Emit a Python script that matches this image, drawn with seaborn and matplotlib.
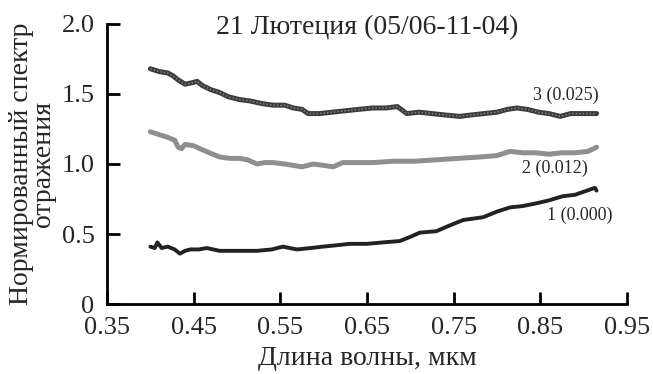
import matplotlib
matplotlib.use("Agg")
import matplotlib.pyplot as plt
import seaborn as sns

# Спектры (длина волны, мкм / нормированное отражение)
x3 = [0.400, 0.410, 0.420, 0.426, 0.432, 0.440, 0.448, 0.454, 0.460, 0.470, 0.480, 0.490,
      0.503, 0.515, 0.530, 0.542, 0.555, 0.565, 0.575, 0.582, 0.595, 0.610, 0.625, 0.640,
      0.657, 0.672, 0.685, 0.696, 0.710, 0.725, 0.740, 0.757, 0.770, 0.785, 0.800, 0.812,
      0.823, 0.835, 0.848, 0.860, 0.873, 0.885, 0.900, 0.915]
y3 = [1.68, 1.66, 1.65, 1.63, 1.60, 1.57, 1.58, 1.59, 1.56, 1.53, 1.51, 1.48,
      1.46, 1.45, 1.43, 1.42, 1.42, 1.40, 1.39, 1.36, 1.36, 1.37, 1.38, 1.39,
      1.40, 1.40, 1.41, 1.36, 1.37, 1.36, 1.35, 1.34, 1.35, 1.36, 1.37, 1.39,
      1.40, 1.39, 1.37, 1.36, 1.34, 1.36, 1.36, 1.36]

x2 = [0.400, 0.410, 0.420, 0.428, 0.432, 0.436, 0.440, 0.450, 0.457, 0.468, 0.480, 0.492,
      0.503, 0.512, 0.523, 0.532, 0.542, 0.555, 0.565, 0.575, 0.588, 0.600, 0.611, 0.622,
      0.640, 0.657, 0.680, 0.705, 0.730, 0.755, 0.780, 0.800, 0.815, 0.830, 0.845, 0.860,
      0.875, 0.890, 0.905, 0.915]
y2 = [1.23, 1.21, 1.19, 1.17, 1.12, 1.11, 1.14, 1.13, 1.11, 1.08, 1.05, 1.04,
      1.04, 1.03, 1.00, 1.01, 1.01, 1.00, 0.99, 0.98, 1.00, 0.99, 0.98, 1.01,
      1.01, 1.01, 1.02, 1.02, 1.03, 1.04, 1.05, 1.06, 1.09, 1.08, 1.08, 1.07,
      1.08, 1.08, 1.09, 1.12]

x1 = [0.400, 0.405, 0.408, 0.413, 0.420, 0.428, 0.434, 0.440, 0.446, 0.456, 0.465, 0.480,
      0.500, 0.523, 0.540, 0.553, 0.569, 0.585, 0.599, 0.615, 0.630, 0.650, 0.668, 0.688,
      0.700, 0.711, 0.730, 0.745, 0.761, 0.784, 0.800, 0.815, 0.830, 0.846, 0.860, 0.876,
      0.890, 0.904, 0.913, 0.915]
y1 = [0.41, 0.40, 0.44, 0.40, 0.41, 0.39, 0.36, 0.38, 0.39, 0.39, 0.40, 0.38,
      0.38, 0.38, 0.39, 0.41, 0.39, 0.40, 0.41, 0.42, 0.43, 0.43, 0.44, 0.45,
      0.48, 0.51, 0.52, 0.56, 0.60, 0.62, 0.66, 0.69, 0.70, 0.72, 0.74, 0.77,
      0.78, 0.81, 0.83, 0.81]

labels = ["3 (0.025)", "2 (0.012)", "1 (0.000)"]
xticks = [0.35, 0.45, 0.55, 0.65, 0.75, 0.85, 0.95]
yticks = [0, 0.5, 1.0, 1.5, 2.0]
ytick_labels = ["0", "0.5", "1.0", "1.5", "2.0"]

sns.set_style("ticks")
plt.rcParams['font.family'] = ['Liberation Serif', 'DejaVu Serif']

fig = plt.figure(figsize=(6.53, 3.74), dpi=100)
ax = fig.add_axes([0.164, 0.187, 0.796, 0.749])

sns.lineplot(x=x3, y=y3, ax=ax, color='#3c3c3c', linewidth=3.6, sort=False)
sns.lineplot(x=x3, y=y3, ax=ax, color='#8a8a8a', linewidth=1.0, sort=False,
             linestyle=(0, (1, 1.5)))
sns.lineplot(x=x2, y=y2, ax=ax, color='#8f8f8f', linewidth=3.6, sort=False)
sns.lineplot(x=x1, y=y1, ax=ax, color='#222222', linewidth=2.8, sort=False)

ax.text(0.880, 1.49, labels[0], fontsize=13, ha='center', va='center')
ax.text(0.867, 0.97, labels[1], fontsize=13, ha='center', va='center')
ax.text(0.896, 0.63, labels[2], fontsize=13, ha='center', va='center')

ax.text(0.65, 1.975, "21 Лютеция (05/06-11-04)", fontsize=20, ha='center', va='center')

ax.set_xlim(0.35, 0.95)
ax.set_ylim(0, 2.0)
ax.set_xticks(xticks)
ax.set_xticklabels([f"{t:.2f}" for t in xticks])
ax.set_yticks(yticks)
ax.set_yticklabels(ytick_labels)
ax.tick_params(direction='in', length=9, width=2, labelsize=19, pad=9, color='black')
ax.set_xlabel("Длина волны, мкм", fontsize=20, labelpad=5)
ax.set_ylabel("Нормированный спектр\nотражения", fontsize=20, labelpad=4, linespacing=0.85)

for s in ['top', 'right']:
    ax.spines[s].set_visible(False)
for s in ['left', 'bottom']:
    ax.spines[s].set_linewidth(2)
    ax.spines[s].set_color('black')

fig.savefig("out.png", dpi=100)
